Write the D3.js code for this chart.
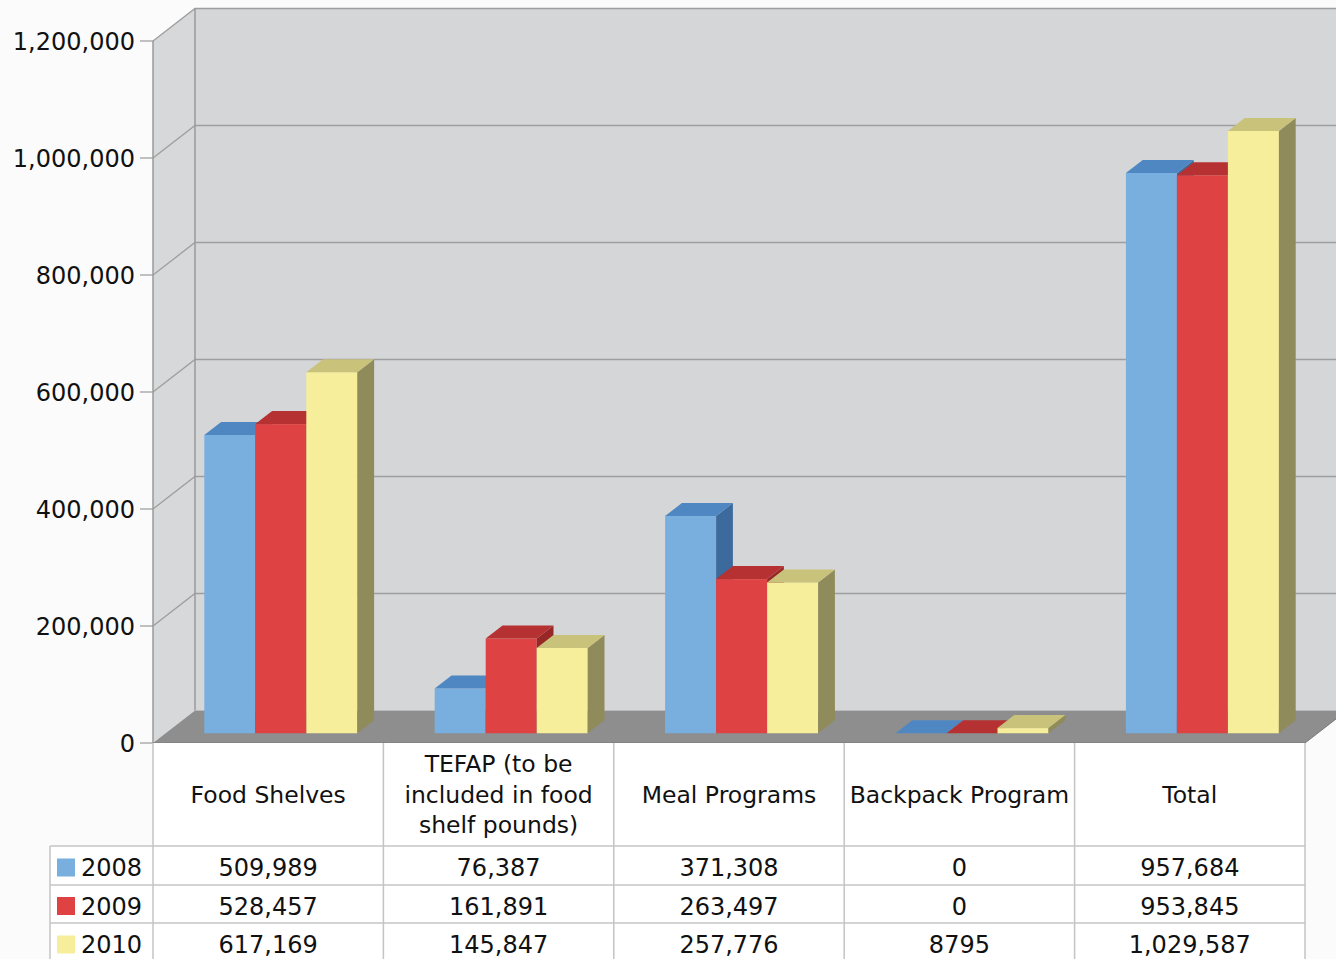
<!DOCTYPE html>
<html><head><meta charset="utf-8">
<script src="https://cdn.jsdelivr.net/npm/d3@7"></script>
<style>html,body{margin:0;padding:0;background:#fbfbfb;}svg{display:block;}</style>
</head><body>
<script>
const categories = ["Food Shelves", "TEFAP (to be included in food shelf pounds)", "Meal Programs", "Backpack Program", "Total"];
const headerLines = [["Food Shelves"], ["TEFAP (to be", "included in food", "shelf pounds)"], ["Meal Programs"], ["Backpack Program"], ["Total"]];
const years = ["2008", "2009", "2010"];
const v2008 = [509989, 76387, 371308, 0, 957684];
const v2009 = [528457, 161891, 263497, 0, 953845];
const v2010 = [617169, 145847, 257776, 8795, 1029587];
const labels2008 = ["509,989", "76,387", "371,308", "0", "957,684"];
const labels2009 = ["528,457", "161,891", "263,497", "0", "953,845"];
const labels2010 = ["617,169", "145,847", "257,776", "8795", "1,029,587"];
const yTicks = [0, 200000, 400000, 600000, 800000, 1000000, 1200000];

const series = [
  {year: "2008", values: v2008, labels: labels2008, front: "#79afdf", top: "#4f87c3", side: "#3d6a9c"},
  {year: "2009", values: v2009, labels: labels2009, front: "#df4242", top: "#b63131", side: "#982828"},
  {year: "2010", values: v2010, labels: labels2010, front: "#f6ee9b", top: "#c9c27b", side: "#8f8b5a"}
];

const W = 1336, H = 959;
const svg = d3.select("body").append("svg").attr("width", W).attr("height", H);
const font = "'DejaVu Sans', Verdana, sans-serif";

const left = 153, right = 1305, base = 743;
const DX = 42, DY = 32.5;
const y = d3.scaleLinear().domain([0, 1200000]).range([base, 41]);
const x = d3.scaleBand().domain(categories).range([left, right]);
const xs = d3.scaleBand().domain(years).range([38.7, x.bandwidth() - 38.7]);

svg.append("rect").attr("width", W).attr("height", H).attr("fill", "#fbfbfb");

const g = svg.append("g");
const yTop = y(1200000);
g.append("rect").attr("x", left + DX).attr("y", yTop - DY).attr("width", W - left).attr("height", base - yTop)
  .attr("fill", "#d5d6d7");
g.append("path").attr("d", `M${left},${yTop}L${left+DX},${yTop-DY}L${left+DX},${base-DY}L${left},${base}Z`)
  .attr("fill", "#d7d8d9");
yTicks.forEach(t => {
  const yy = y(t);
  if (t > 0) {
    g.append("path").attr("d", `M${left},${yy}L${left+DX},${yy-DY}L${W+5},${yy-DY}`)
      .attr("fill", "none").attr("stroke", "#9e9e9e").attr("stroke-width", 1.3);
  }
});
g.append("line").attr("x1", left + DX).attr("x2", left + DX).attr("y1", yTop - DY).attr("y2", base - DY)
  .attr("stroke", "#9a9a9a").attr("stroke-width", 1.5);
g.append("line").attr("x1", left).attr("x2", left).attr("y1", yTop).attr("y2", base)
  .attr("stroke", "#9a9a9a").attr("stroke-width", 1.5);
g.append("path").attr("d", `M${left},${base}L${right},${base}L${right+DX},${base-DY}L${left+DX},${base-DY}Z`)
  .attr("fill", "#8e8e8e");
g.append("path").attr("d", `M${left},${base}L${right},${base}L${right+DX},${base-DY}`)
  .attr("fill", "none").attr("stroke", "#7a7a7a").attr("stroke-width", 1);

const axis = svg.append("g");
yTicks.forEach(t => {
  const yy = y(t);
  axis.append("line").attr("x1", 140).attr("x2", left).attr("y1", yy).attr("y2", yy)
    .attr("stroke", "#999").attr("stroke-width", 1.2);
  axis.append("text").attr("x", 135).attr("y", yy).attr("dy", "0.36em").attr("text-anchor", "end")
    .attr("font-family", font).attr("font-size", 24).attr("fill", "#111").text(d3.format(",")(t));
});

const f1 = 0.3, f2 = 0.7;
const ox = DX * f1, oy = DY * f1;
const dx = DX * (f2 - f1), dy = DY * (f2 - f1);
const bars = svg.append("g");
categories.forEach((c, ci) => {
  series.forEach(s => {
    const v = s.values[ci];
    const x0 = x(c) + xs(s.year) + ox;
    const w = xs.bandwidth();
    const yb = base - oy;
    const h = y(0) - y(v);
    const yt = yb - h;
    if (h > 0) bars.append("rect").attr("x", x0).attr("y", yt).attr("width", w).attr("height", h).attr("fill", s.front);
    bars.append("path").attr("d", `M${x0+w},${yt}L${x0+w+dx},${yt-dy}L${x0+w+dx},${yb-dy}L${x0+w},${yb}Z`).attr("fill", s.side);
    bars.append("path").attr("d", `M${x0},${yt}L${x0+dx},${yt-dy}L${x0+w+dx},${yt-dy}L${x0+w},${yt}Z`).attr("fill", s.top);
  });
});

const tbl = svg.append("g");
const lineC = "#c4c4c4";
const rowY = [846, 885, 923, 962];
const bounds = x.domain().map(c => x(c)).concat([right]);
tbl.append("rect").attr("x", left).attr("y", base).attr("width", right - left).attr("height", H - base).attr("fill", "#ffffff");
tbl.append("rect").attr("x", 50).attr("y", rowY[0]).attr("width", left - 50).attr("height", H - rowY[0]).attr("fill", "#ffffff");
bounds.forEach(bx => {
  tbl.append("line").attr("x1", bx).attr("x2", bx).attr("y1", base).attr("y2", H).attr("stroke", lineC).attr("stroke-width", 1.5);
});
tbl.append("line").attr("x1", 50).attr("x2", 50).attr("y1", rowY[0]).attr("y2", H).attr("stroke", lineC).attr("stroke-width", 1.5);
rowY.slice(0, 3).forEach(ry => {
  tbl.append("line").attr("x1", 50).attr("x2", right).attr("y1", ry).attr("y2", ry).attr("stroke", lineC).attr("stroke-width", 1.5);
});
categories.forEach((c, ci) => {
  const lines = headerLines[ci];
  const cx = x(c) + x.bandwidth() / 2;
  const lh = 30.5;
  const cy = (base + rowY[0]) / 2;
  lines.forEach((ln, li) => {
    tbl.append("text").attr("x", cx).attr("y", cy + (li - (lines.length - 1) / 2) * lh).attr("dy", "0.36em")
      .attr("text-anchor", "middle").attr("font-family", font).attr("font-size", 23.5).attr("fill", "#111").text(ln);
  });
});
series.forEach((s, si) => {
  const cy = (rowY[si] + rowY[si + 1]) / 2 + 2;
  tbl.append("rect").attr("x", 57).attr("y", cy - 9).attr("width", 18).attr("height", 18).attr("fill", s.front);
  tbl.append("text").attr("x", 81).attr("y", cy).attr("dy", "0.36em").attr("font-family", font).attr("font-size", 24)
    .attr("fill", "#111").text(s.year);
  categories.forEach((c, ci) => {
    tbl.append("text").attr("x", x(c) + x.bandwidth() / 2).attr("y", cy).attr("dy", "0.36em").attr("text-anchor", "middle")
      .attr("font-family", font).attr("font-size", 24).attr("fill", "#111").text(s.labels[ci]);
  });
});
</script>
</body></html>
